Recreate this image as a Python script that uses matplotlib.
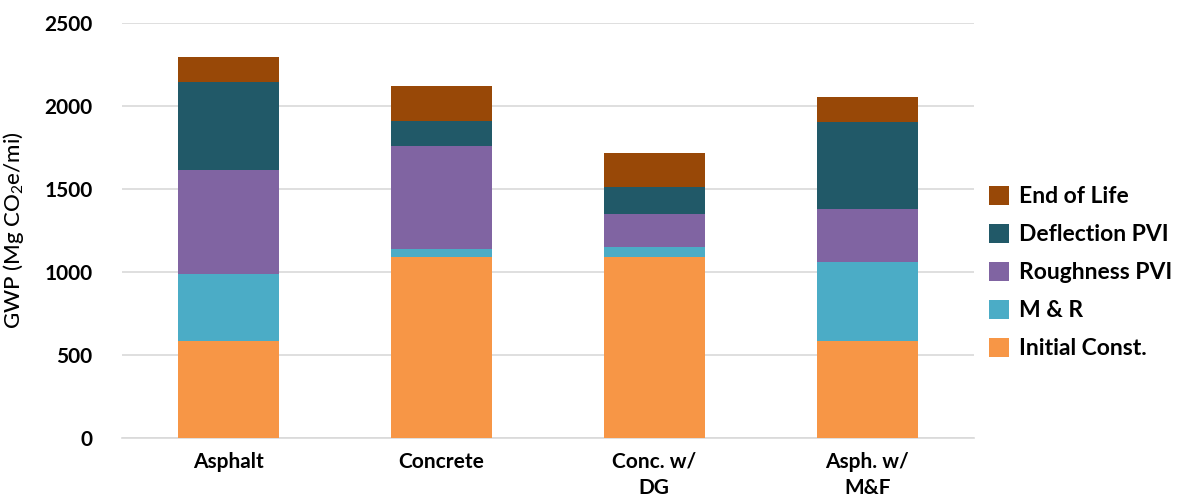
import matplotlib
matplotlib.use("Agg")
import matplotlib.pyplot as plt
import numpy as np

plt.rcParams['font.family'] = ['Lato', 'DejaVu Sans']
plt.rcParams['mathtext.fontset'] = 'custom'
plt.rcParams['mathtext.rm'] = 'Lato'
plt.rcParams['mathtext.bf'] = 'Lato:bold'

# Data (Mg CO2e/mi)
categories = ['Asphalt', 'Concrete', 'Conc. w/\nDG', 'Asph. w/\nM&F']
initial_const = [584, 1089, 1089, 584]
m_and_r = [402, 46, 58, 476]
roughness_pvi = [627, 620, 202, 318]
deflection_pvi = [532, 153, 159, 526]
end_of_life = [147, 211, 209, 150]

series = [
    ('Initial Const.', initial_const, '#F79646'),
    ('M & R', m_and_r, '#4BACC6'),
    ('Roughness PVI', roughness_pvi, '#8064A2'),
    ('Deflection PVI', deflection_pvi, '#215968'),
    ('End of Life', end_of_life, '#984807'),
]

fig = plt.figure(figsize=(11.92, 5), dpi=100)
ax = fig.add_axes([0.102, 0.1246, 0.715, 0.8300])

x = np.arange(len(categories))
bottom = np.zeros(len(categories))
handles = []
for name, vals, col in series:
    b = ax.bar(x, vals, 0.474, bottom=bottom, color=col, label=name, zorder=3)
    handles.append(b)
    bottom += np.array(vals)

ax.set_xlim(-0.5, len(categories) - 0.5)
ax.set_ylim(0, 2500)
ax.set_yticks(np.arange(0, 2501, 500))
ax.grid(axis='y', color='#D9D9D9', linewidth=1.2, zorder=0)
ax.set_axisbelow(True)
for s in ['left', 'right', 'top']:
    ax.spines[s].set_visible(False)
ax.spines['bottom'].set_color('#D9D9D9')
ax.spines['bottom'].set_linewidth(1.2)
ax.tick_params(axis='both', length=0, labelsize=15)
ax.tick_params(axis='y', pad=21)
ax.tick_params(axis='x', pad=10)
ax.set_xticks(x)
ax.set_xticklabels(categories, fontweight='bold', linespacing=1.4)
for t in ax.get_yticklabels():
    t.set_fontweight('bold')
ax.set_ylabel('GWP (Mg CO$_\\mathrm{2}$e/mi)', fontsize=16, fontweight='medium', labelpad=13)

leg = fig.legend(handles[::-1], [s[0] for s in series][::-1], loc='center left',
                 bbox_to_anchor=(0.812, 0.455), frameon=False,
                 prop={'size': 16.5, 'weight': 'bold'}, handlelength=0.9, handleheight=0.9,
                 handletextpad=0.45, labelspacing=0.72)

fig.savefig('out.png', dpi=100)
